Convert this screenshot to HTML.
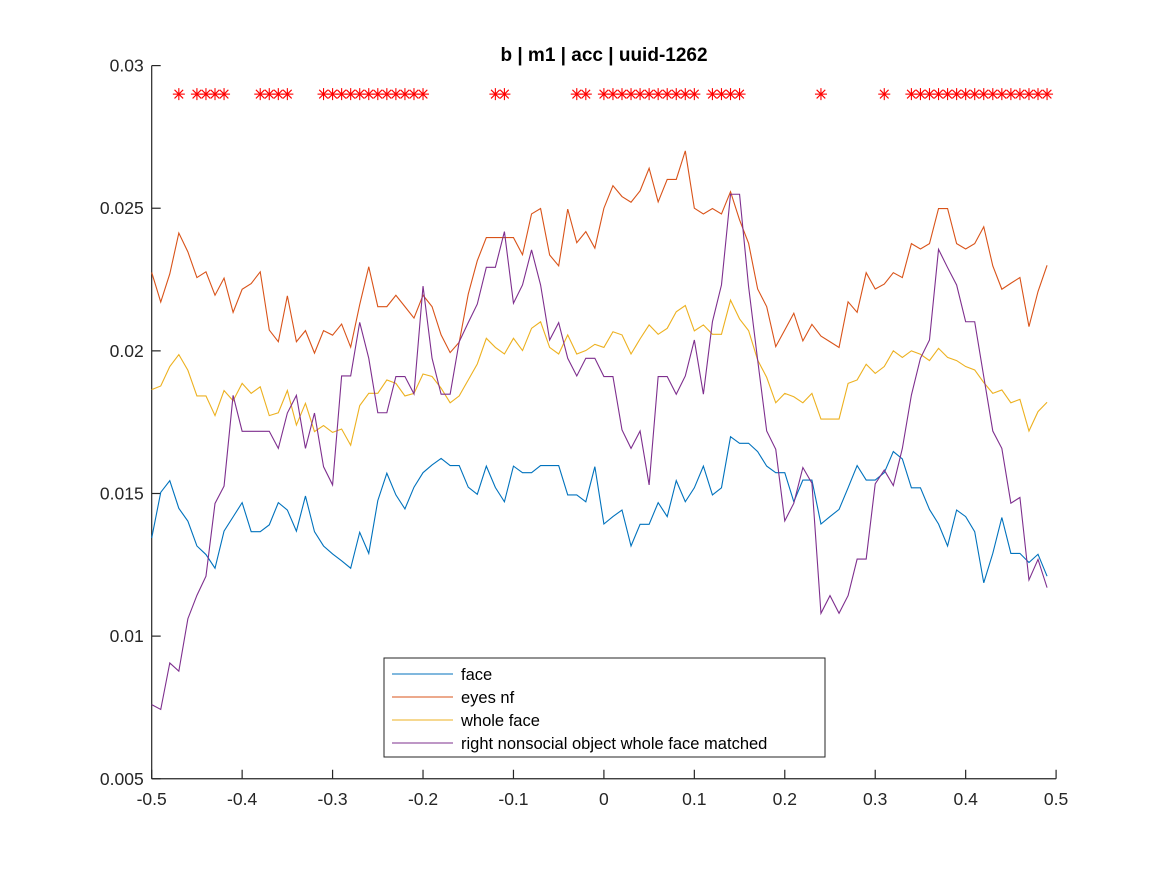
<!DOCTYPE html>
<html><head><meta charset="utf-8"><style>
body{margin:0;background:#fff;}
svg{display:block;font-family:"Liberation Sans",Arial,sans-serif;}
</style></head><body>
<svg id="chart" width="1167" height="875" viewBox="0 0 1167 875" xmlns="http://www.w3.org/2000/svg">
<rect x="0" y="0" width="1167" height="875" fill="#fff"/>
<g id="plot"></g>
</svg>
<script>
const xTicks=[-0.5,-0.4,-0.3,-0.2,-0.1,0,0.1,0.2,0.3,0.4,0.5];
const xTickLabels=["-0.5","-0.4","-0.3","-0.2","-0.1","0","0.1","0.2","0.3","0.4","0.5"];
const yTicks=[0.005,0.01,0.015,0.02,0.025,0.03];
const yTickLabels=["0.005","0.01","0.015","0.02","0.025","0.03"];
const seriesNames=["face","eyes nf","whole face","right nonsocial object whole face matched"];
const face=[0.01344,0.01504,0.01545,0.01448,0.01403,0.01316,0.01286,0.01238,0.01368,0.01418,0.01468,0.01366,0.01366,0.0139,0.01468,0.01442,0.01368,0.01491,0.01366,0.01316,0.01288,0.01264,0.01238,0.01364,0.0129,0.01475,0.01571,0.01495,0.01446,0.01522,0.01573,0.016,0.01623,0.01598,0.01598,0.01522,0.01497,0.01596,0.01521,0.01471,0.01596,0.01573,0.01573,0.01598,0.01598,0.01598,0.01495,0.01495,0.01471,0.01594,0.01393,0.01419,0.01442,0.01316,0.01392,0.01392,0.01468,0.01419,0.01545,0.01471,0.0152,0.01596,0.01495,0.0152,0.01699,0.01676,0.01676,0.01647,0.01596,0.01573,0.01573,0.01471,0.01547,0.01547,0.01393,0.01419,0.01444,0.0152,0.01598,0.01547,0.01547,0.01573,0.01647,0.01621,0.0152,0.0152,0.01444,0.01393,0.01316,0.01442,0.01419,0.01366,0.01187,0.0129,0.01416,0.0129,0.0129,0.01258,0.01287,0.0121];
const eyesNf=[0.02275,0.02171,0.0227,0.02413,0.02347,0.02257,0.02277,0.02195,0.02255,0.02135,0.02216,0.02236,0.02277,0.02073,0.02032,0.02193,0.02032,0.02071,0.01992,0.02071,0.02055,0.02094,0.02013,0.02162,0.02295,0.02155,0.02155,0.02195,0.02155,0.02115,0.02195,0.02155,0.02056,0.01994,0.0203,0.02199,0.02316,0.02397,0.02397,0.02397,0.02397,0.02337,0.0248,0.02499,0.02336,0.02298,0.02497,0.02379,0.02418,0.0236,0.025,0.02579,0.02541,0.02521,0.02561,0.0264,0.02522,0.02601,0.02601,0.02701,0.025,0.0248,0.02499,0.0248,0.02558,0.02459,0.02377,0.02217,0.02155,0.02015,0.02073,0.02132,0.02035,0.02093,0.02052,0.02032,0.02012,0.02172,0.02135,0.02274,0.02217,0.02234,0.02274,0.02257,0.02376,0.02357,0.02376,0.02499,0.02499,0.02376,0.02357,0.02376,0.02435,0.02298,0.02216,0.02237,0.02257,0.02085,0.02208,0.023];
const wholeFace=[0.01864,0.01877,0.01945,0.01987,0.01932,0.01842,0.01842,0.01773,0.01861,0.01825,0.01886,0.01851,0.01874,0.01773,0.01783,0.01861,0.0174,0.01816,0.01717,0.01738,0.01714,0.01726,0.01669,0.01808,0.01851,0.01851,0.01898,0.01886,0.01842,0.01851,0.01919,0.0191,0.01869,0.01818,0.01842,0.01898,0.01954,0.02044,0.02012,0.01989,0.02044,0.02001,0.02079,0.02102,0.02012,0.01989,0.02056,0.01989,0.02001,0.02023,0.02012,0.02067,0.02056,0.01989,0.02042,0.02091,0.02058,0.02079,0.02137,0.02159,0.0207,0.02091,0.02058,0.02058,0.02178,0.02112,0.02071,0.01968,0.01907,0.01818,0.01851,0.01839,0.01818,0.01851,0.01761,0.01761,0.01761,0.01886,0.01898,0.01953,0.01921,0.01945,0.02,0.01977,0.02,0.01988,0.01966,0.02009,0.01977,0.01966,0.01945,0.01933,0.01889,0.01851,0.01863,0.01818,0.0183,0.01719,0.01787,0.0182];
const rightNonsocial=[0.0076,0.00743,0.00906,0.00877,0.01061,0.01143,0.0121,0.01465,0.01526,0.01844,0.01718,0.01718,0.01718,0.01718,0.01658,0.01782,0.01844,0.01658,0.01782,0.01594,0.0153,0.01912,0.01912,0.021,0.01974,0.01783,0.01783,0.0191,0.0191,0.01849,0.02227,0.01974,0.01848,0.01848,0.02032,0.02099,0.02164,0.02293,0.02293,0.02418,0.02167,0.02231,0.02354,0.02231,0.02038,0.02099,0.01974,0.01912,0.01974,0.01974,0.0191,0.0191,0.01723,0.01658,0.01719,0.0153,0.0191,0.0191,0.01848,0.01912,0.02038,0.01848,0.02102,0.02231,0.02549,0.02549,0.02225,0.01968,0.01719,0.01655,0.01404,0.01466,0.01591,0.01536,0.0108,0.01142,0.0108,0.01142,0.0127,0.0127,0.01534,0.01582,0.01528,0.01658,0.01845,0.01974,0.02038,0.02356,0.02292,0.02231,0.02102,0.02102,0.0191,0.01719,0.01658,0.01466,0.01486,0.01197,0.01269,0.0117];
const sigIdx=[3,5,6,7,8,12,13,14,15,19,20,21,22,23,24,25,26,27,28,29,30,38,39,47,48,50,51,52,53,54,55,56,57,58,59,60,62,63,64,65,74,81,84,85,86,87,88,89,90,91,92,93,94,95,96,97,98,99];
const sigLevel=0.029;
const xStart=-0.5, xStep=0.01;

const NS="http://www.w3.org/2000/svg";
const L=151.7,R=1056.1,T=65.6,B=778.75;
const xMin=-0.5,xMax=0.5,yMin=0.005,yMax=0.03;
function sx(v){return L+(v-xMin)/(xMax-xMin)*(R-L);}
function sy(v){return B-(v-yMin)/(yMax-yMin)*(B-T);}
const g=document.getElementById('plot');
function el(tag,attrs,parent){const e=document.createElementNS(NS,tag);for(const k in attrs)e.setAttribute(k,attrs[k]);(parent||g).appendChild(e);return e;}

// axes lines
const axX=el('line',{x1:L,y1:B,x2:R,y2:B,stroke:'#262626','stroke-width':1.2});


const axY=el('line',{x1:L,y1:B,x2:L,y2:T,stroke:'#262626','stroke-width':1.2});



xTicks.forEach((t,i)=>{
  const x=sx(t);
  const tk=el('line',{x1:x,y1:B,x2:x,y2:B-9,stroke:'#262626','stroke-width':1.2});
  
  
  const tx=el('text',{x:x,y:B+26,'text-anchor':'middle','font-size':'17.5',fill:'#262626'});
  tx.textContent=xTickLabels[i];
  
  
});
yTicks.forEach((t,i)=>{
  const y=sy(t);
  const tk=el('line',{x1:L,y1:y,x2:L+9,y2:y,stroke:'#262626','stroke-width':1.2});
  
  
  const tx=el('text',{x:L-8,y:y+6,'text-anchor':'end','font-size':'17.5',fill:'#262626'});
  tx.textContent=yTickLabels[i];
  
  
});

const title=el('text',{x:604,y:61,'text-anchor':'middle','font-size':'19','font-weight':'bold',fill:'#000'});
title.textContent='b | m1 | acc | uuid-1262';



const colors=['#0072BD','#D95319','#EDB120','#7E2F8E'];
const allSeries=[face,eyesNf,wholeFace,rightNonsocial];
const seriesKeys=['face-line','eyes-nf-line','whole-face-line','right-nonsocial-line'];
allSeries.forEach((s,k)=>{
  const pts=s.map((v,i)=>sx(xStart+i*xStep).toFixed(2)+','+sy(v).toFixed(2)).join(' ');
  const pl=el('polyline',{points:pts,fill:'none',stroke:colors[k],'stroke-width':1.1,'stroke-linejoin':'miter'});
  
  
});

// significance stars
sigIdx.forEach(i=>{
  const x=sx(xStart+i*xStep), y=sy(sigLevel), r=6;
  const st=el('g',{stroke:'#ff0000','stroke-width':1.1});
  
  
  el('line',{x1:x-r,y1:y,x2:x+r,y2:y},st);
  el('line',{x1:x,y1:y-r,x2:x,y2:y+r},st);
  el('line',{x1:x-r*0.72,y1:y-r*0.72,x2:x+r*0.72,y2:y+r*0.72},st);
  el('line',{x1:x-r*0.72,y1:y+r*0.72,x2:x+r*0.72,y2:y-r*0.72},st);
});

// legend
const lg=el('g',{});


el('rect',{x:384,y:658,width:441,height:99,fill:'#fff',stroke:'#262626','stroke-width':1},lg);
seriesNames.forEach((n,k)=>{
  const y=674+k*23;
  const ent=el('g',{},lg);
  
  
  el('line',{x1:392,y1:y,x2:453,y2:y,stroke:colors[k],'stroke-width':1.1},ent);
  const t=el('text',{x:461,y:y+6,'font-size':'16.5',fill:'#000'},ent);
  t.textContent=n;
});
</script>
</body></html>
